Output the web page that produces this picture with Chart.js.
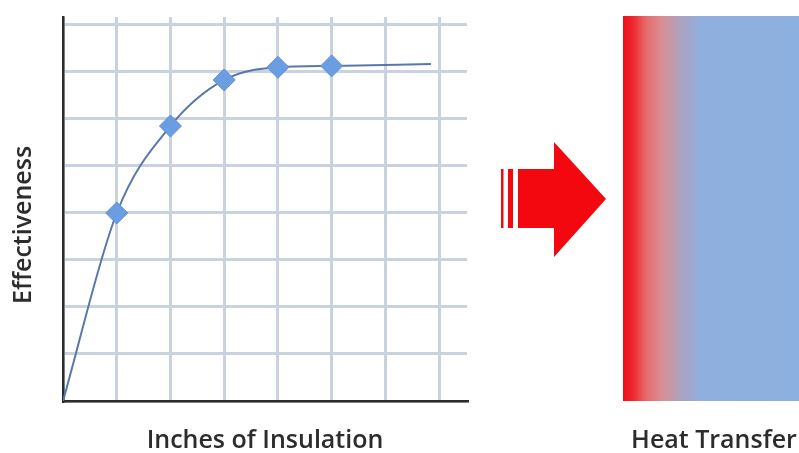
<!DOCTYPE html>
<html>
<head>
<meta charset="utf-8">
<script src="https://cdn.jsdelivr.net/npm/chart.js@4"></script>
<style>
  html, body { margin: 0; padding: 0; background: #fff; }
  #wrap { position: relative; width: 799px; height: 453px; }
</style>
</head>
<body>
<div id="wrap"><canvas id="insulationChart" width="799" height="453"></canvas></div>
<script>
// inches of insulation vs effectiveness
const inches = [0, 1, 2, 3, 4, 5, 6.85];
const effectiveness = [0, 4.0, 5.85, 6.83, 7.1, 7.13, 7.17];
const markerRadius = [0, 11, 11, 11, 11, 11, 0];
const xGridTicks = [0, 1, 2, 3, 4, 5, 6, 7];
const yGridTicks = [0, 1, 2, 3, 4, 5, 6, 7, 8];
const xTitle = 'Inches of Insulation';
const yTitle = 'Effectiveness';
const sideTitle = 'Heat Transfer';

const FONT = '"Open Sans"';
const TEXT_COLOR = '#2c2c2c';

// y title, arrow and the heated wall on the right
const heatPanelPlugin = {
    id: 'heatPanel',
    afterDraw: (chart) => {
        const { ctx, chartArea } = chart;
        const top = chartArea.top - 1;
        const bottom = chartArea.bottom;
        const left = 623, right = 799;

        ctx.save();
        const grad = ctx.createLinearGradient(left, 0, right, 0);
        grad.addColorStop(0.00, '#f20d16');
        grad.addColorStop(0.06, '#ee2a30');
        grad.addColorStop(0.13, '#e56a6c');
        grad.addColorStop(0.22, '#d98e91');
        grad.addColorStop(0.33, '#aca3c2');
        grad.addColorStop(0.45, '#8fb0de');
        grad.addColorStop(1.00, '#8cb0df');
        ctx.fillStyle = grad;
        ctx.fillRect(left, top, right - left, bottom - top);

        // block arrow with two thin stripes at its tail
        ctx.fillStyle = '#f4080f';
        ctx.beginPath();
        ctx.moveTo(518, 169);
        ctx.lineTo(554, 169);
        ctx.lineTo(554, 142);
        ctx.lineTo(606, 199);
        ctx.lineTo(554, 257);
        ctx.lineTo(554, 228);
        ctx.lineTo(518, 228);
        ctx.closePath();
        ctx.fill();
        ctx.fillRect(508, 169, 5, 59);
        ctx.fillRect(501, 169, 2.5, 59);

        ctx.fillStyle = TEXT_COLOR;
        ctx.font = '600 25px ' + FONT;
        ctx.textAlign = 'center';
        ctx.textBaseline = 'middle';
        ctx.fillText(sideTitle, 714, 441);

        ctx.translate(24, 225);
        ctx.rotate(-Math.PI / 2);
        ctx.fillText(yTitle, 0, 0);
        ctx.restore();
    }
};

const ctx = document.getElementById('insulationChart').getContext('2d');
new Chart(ctx, {
    type: 'line',
    data: {
        datasets: [{
            data: inches.map((x, i) => ({ x: x, y: effectiveness[i] })),
            borderColor: '#5878aa',
            borderWidth: 2,
            cubicInterpolationMode: 'monotone',
            pointStyle: 'rectRot',
            pointRadius: markerRadius,
            pointBackgroundColor: '#6b9de2',
            pointBorderColor: '#5f8fd2',
            pointBorderWidth: 1
        }]
    },
    options: {
        responsive: false,
        animation: false,
        events: [],
        layout: {
            padding: { top: 17, right: 332, bottom: 0, left: 0 }
        },
        plugins: {
            legend: { display: false },
            tooltip: { enabled: false }
        },
        scales: {
            x: {
                type: 'linear',
                min: 0,
                max: 7.52,
                afterBuildTicks: s => { s.ticks = xGridTicks.map(v => ({ value: v })); },
                afterFit: s => { s.height = 52; },
                ticks: { display: false },
                grid: { color: '#cad2de', lineWidth: 3, drawTicks: false },
                border: { color: '#2b2b2b', width: 2.5 },
                title: {
                    display: true,
                    text: xTitle,
                    color: TEXT_COLOR,
                    font: { family: FONT, size: 25, weight: '600', lineHeight: 1.0 },
                    padding: { top: 0, bottom: 0 }
                }
            },
            y: {
                type: 'linear',
                min: 0,
                max: 8.17,
                afterBuildTicks: s => { s.ticks = yGridTicks.map(v => ({ value: v })); },
                afterFit: s => { s.width = 63; },
                ticks: { display: false },
                grid: { color: '#cad2de', lineWidth: 3, drawTicks: false },
                border: { color: '#2b2b2b', width: 2.5 },
                title: { display: false }
            }
        }
    },
    plugins: [heatPanelPlugin]
});
</script>
</body>
</html>
